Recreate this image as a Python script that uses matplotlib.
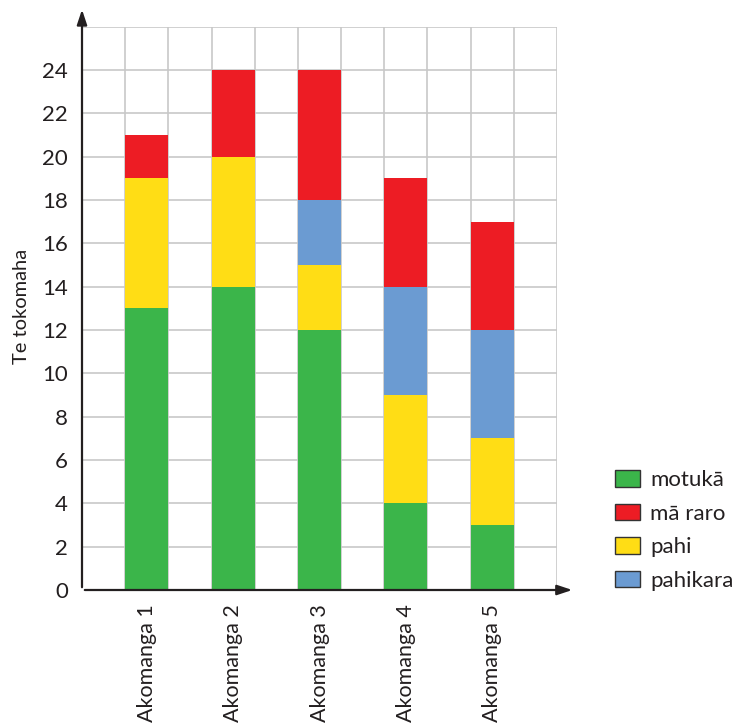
import matplotlib
matplotlib.use("Agg")
import matplotlib.pyplot as plt
from matplotlib.patches import Patch
import numpy as np

categories = ["Akomanga 1", "Akomanga 2", "Akomanga 3", "Akomanga 4", "Akomanga 5"]
motuka = [13, 14, 12, 4, 3]
pahi = [6, 6, 3, 5, 4]
pahikara = [0, 0, 3, 5, 5]
ma_raro = [2, 4, 6, 5, 5]
y_ticks = [0, 2, 4, 6, 8, 10, 12, 14, 16, 18, 20, 22, 24]

colors = {"motukā": "#3BB54A", "mā raro": "#ED1C24", "pahi": "#FFDD15", "pahikara": "#6B9BD2"}

plt.rcParams['font.family'] = ['Lato', 'DejaVu Sans']

fig = plt.figure(figsize=(7.38, 7.26), dpi=100)
W, H = 738, 726
x0, x1, y0, y1 = 82, 557, 590, 26.5
ax = fig.add_axes([x0 / W, (H - y0) / H, (x1 - x0) / W, (y0 - y1) / H])

pos = np.arange(len(categories)) * 2 + 1.5
bottom = np.zeros(len(categories))
for name, vals in [("motukā", motuka), ("pahi", pahi), ("pahikara", pahikara), ("mā raro", ma_raro)]:
    v = np.array(vals, dtype=float)
    ax.bar(pos, v, width=1.0, bottom=bottom, color=colors[name], zorder=3, linewidth=0)
    bottom += v

ax.set_xlim(0, 11)
ax.set_ylim(0, 26)
for xv in range(1, 12):
    ax.axvline(xv, color="#c8c8c8", lw=1.2, zorder=1)
for yv in range(2, 27, 2):
    ax.axhline(yv, color="#c8c8c8", lw=1.2, zorder=1)

ax.set_yticks(y_ticks)
ax.set_yticklabels([str(t) for t in y_ticks], fontsize=16, color="#231f20")
ax.set_xticks(pos)
ax.set_xticklabels(categories, rotation=90, fontsize=15.5, color="#231f20")
ax.tick_params(length=0)
ax.tick_params(axis='y', pad=10)
ax.tick_params(axis='x', pad=10)
for s in ["top", "right", "left", "bottom"]:
    ax.spines[s].set_visible(False)

# axes with arrows
ax.annotate("", xy=(0, 1.035), xytext=(0, 0), xycoords="axes fraction",
            arrowprops=dict(arrowstyle="-|>,head_length=0.9,head_width=0.3", color="#231f20", lw=1.6),
            annotation_clip=False, zorder=5)
ax.annotate("", xy=(1.038, 0), xytext=(0, 0), xycoords="axes fraction",
            arrowprops=dict(arrowstyle="-|>,head_length=0.9,head_width=0.3", color="#231f20", lw=1.6),
            annotation_clip=False, zorder=5)

fig.text(22 / W, (H - 306) / H, "Te tokomaha", rotation=90, fontsize=14.5, color="#231f20",
         ha="center", va="center")

handles = [Patch(facecolor=colors[n], edgecolor="#333333", linewidth=1.0, label=n)
           for n in ["motukā", "mā raro", "pahi", "pahikara"]]
fig.legend(handles=handles, loc="upper left", bbox_to_anchor=(615 / W, (H - 470) / H),
           frameon=False, fontsize=16, handlelength=1.13, handleheight=0.77,
           handletextpad=0.45, labelspacing=0.61, borderpad=0, borderaxespad=0,
           labelcolor="#231f20")

fig.savefig("out.png", dpi=100)
